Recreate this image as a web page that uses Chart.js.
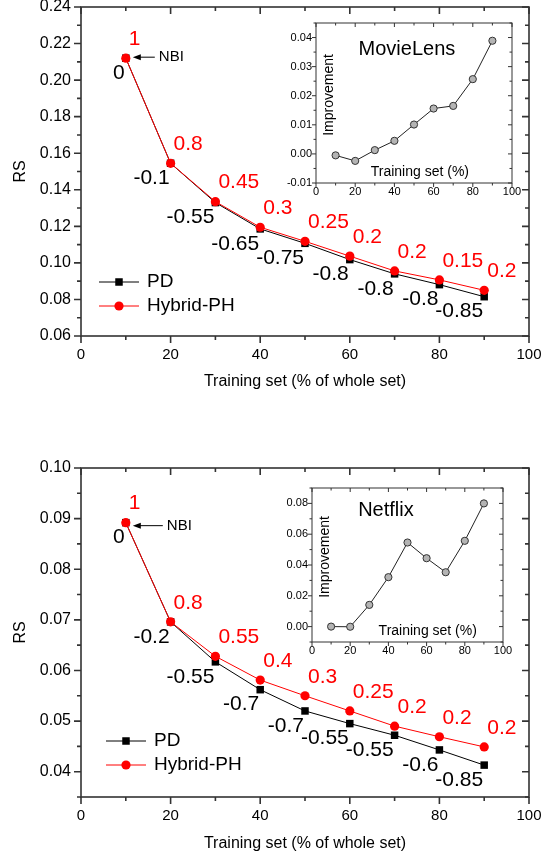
<!DOCTYPE html>
<html>
<head>
<meta charset="utf-8">
<script src="https://cdn.jsdelivr.net/npm/chart.js@4.4.0/dist/chart.umd.min.js"></script>
<style>
    html, body { margin: 0; padding: 0; background: #fff; }
    #wrap { position: relative; width: 556px; height: 856px; overflow: hidden; }
    canvas { position: absolute; }
</style>
</head>
<body>
<div id="wrap">
    <canvas id="ml-main" width="556" height="400" style="left:0;top:0"></canvas>
    <canvas id="ml-inset" width="250" height="190" style="left:276px;top:14px"></canvas>
    <canvas id="nf-main" width="556" height="416" style="left:0;top:440px"></canvas>
    <canvas id="nf-inset" width="250" height="185" style="left:272px;top:478px"></canvas>
</div>
<script>
// ---------------------------------------------------------------------------
// Data
// ---------------------------------------------------------------------------

const trainingSet = [10, 20, 30, 40, 50, 60, 70, 80, 90];

// MovieLens
const mlPD = [0.2120, 0.1545, 0.1330, 0.1186, 0.1107, 0.1018, 0.0940, 0.0881, 0.0815];
const mlHybrid = [0.2120, 0.1545, 0.1335, 0.1195, 0.1118, 0.1037, 0.0956, 0.0907, 0.0850];
const mlPDLabels = ['0', '-0.1', '-0.55', '-0.65', '-0.75', '-0.8', '-0.8', '-0.8', '-0.85'];
const mlHybridLabels = ['1', '0.8', '0.45', '0.3', '0.25', '0.2', '0.2', '0.15', '0.2'];
const mlImprovement = [-0.0005, -0.0024, 0.0013, 0.0045, 0.0101, 0.0156, 0.0165, 0.0257, 0.0389];

// Netflix
const nfPD = [0.0892, 0.0696, 0.0617, 0.0562, 0.0520, 0.0495, 0.0472, 0.0443, 0.0413];
const nfHybrid = [0.0892, 0.0696, 0.0628, 0.0581, 0.0550, 0.0520, 0.0490, 0.0469, 0.0449];
const nfPDLabels = ['0', '-0.2', '-0.55', '-0.7', '-0.7', '-0.55', '-0.55', '-0.6', '-0.85'];
const nfHybridLabels = ['1', '0.8', '0.55', '0.4', '0.3', '0.25', '0.2', '0.2', '0.2'];
const nfImprovement = [0.0000, -0.0001, 0.0141, 0.0321, 0.0546, 0.0444, 0.0353, 0.0557, 0.0800];

// Tick labels
const xTicks = [0, 20, 40, 60, 80, 100];
const mlRsTicks = [0.06, 0.08, 0.10, 0.12, 0.14, 0.16, 0.18, 0.20, 0.22, 0.24];
const nfRsTicks = [0.04, 0.05, 0.06, 0.07, 0.08, 0.09, 0.10];
const mlImpTicks = [-0.01, 0.00, 0.01, 0.02, 0.03, 0.04];
const nfImpTicks = [0.00, 0.02, 0.04, 0.06, 0.08];

// ---------------------------------------------------------------------------
// Helpers / plugins
// ---------------------------------------------------------------------------

const FONT = "'Liberation Sans', Arial, Helvetica, sans-serif";
Chart.defaults.font.family = FONT;
Chart.defaults.color = '#000';

const toPoints = ys => trainingSet.map((x, i) => ({ x, y: ys[i] }));

function stepValues(scale, step) {
    const out = [];
    const start = Math.ceil(scale.min / step - 1e-6);
    const end = Math.floor(scale.max / step + 1e-6);
    for (let i = start; i <= end; i++) out.push(i * step);
    return out;
}

// Origin-style box: ticks out on left/bottom, in on top/right, with minors
const framePlugin = {
    id: 'frame',
    afterDraw(chart, args, o) {
        const { ctx, chartArea: a } = chart;
        const { x, y } = chart.scales;
        const isMajor = (s, v) => s.ticks.some(t => Math.abs(t.value - v) < (s.max - s.min) * 1e-6);
        ctx.save();
        ctx.strokeStyle = o.color;
        ctx.lineWidth = o.width;
        ctx.beginPath();
        stepValues(x, o.xMinor).forEach(v => {
            const px = x.getPixelForValue(v);
            const len = isMajor(x, v) ? o.major : o.minor;
            ctx.moveTo(px, a.bottom); ctx.lineTo(px, a.bottom + len);
            ctx.moveTo(px, a.top); ctx.lineTo(px, a.top + len);
        });
        stepValues(y, o.yMinor).forEach(v => {
            const py = y.getPixelForValue(v);
            const len = isMajor(y, v) ? o.major : o.minor;
            ctx.moveTo(a.left, py); ctx.lineTo(a.left - len, py);
            ctx.moveTo(a.right, py); ctx.lineTo(a.right - len, py);
        });
        ctx.stroke();
        ctx.strokeRect(a.left, a.top, a.right - a.left, a.bottom - a.top);
        ctx.restore();
    }
};

function drawMarker(ctx, ds, x, y) {
    ctx.fillStyle = ds.backgroundColor;
    if (ds.pointStyle === 'rect') {
        const s = ds.pointRadius * Math.SQRT1_2;
        ctx.fillRect(x - s, y - s, 2 * s, 2 * s);
    } else {
        ctx.beginPath();
        ctx.arc(x, y, ds.pointRadius, 0, Math.PI * 2);
        ctx.fill();
    }
}

// Numbers written next to each point
const pointLabelPlugin = {
    id: 'pointLabels',
    afterDatasetsDraw(chart, args, o) {
        const { ctx } = chart;
        ctx.save();
        ctx.font = o.size + 'px ' + FONT;
        ctx.textBaseline = 'middle';
        chart.data.datasets.forEach((ds, i) => {
            if (!ds.pointLabels) return;
            const above = ds.pointLabelAbove;
            ctx.fillStyle = ds.pointLabelColor;
            ctx.textAlign = above ? 'left' : 'right';
            chart.getDatasetMeta(i).data.forEach((pt, j) => {
                ctx.fillText(ds.pointLabels[j], pt.x + (above ? 3 : -1), pt.y + (above ? -19 : 15));
            });
        });
        ctx.restore();
    }
};

// Legend drawn inside the plot, lower left
const insideLegendPlugin = {
    id: 'insideLegend',
    afterDatasetsDraw(chart, args, o) {
        const { ctx, chartArea: a } = chart;
        ctx.save();
        ctx.font = o.size + 'px ' + FONT;
        ctx.textBaseline = 'middle';
        ctx.textAlign = 'left';
        o.order.forEach((idx, row) => {
            const ds = chart.data.datasets[idx];
            const y = a.bottom + o.rows[row];
            const x0 = a.left + o.x;
            ctx.strokeStyle = ds.borderColor;
            ctx.lineWidth = ds.borderWidth;
            ctx.beginPath();
            ctx.moveTo(x0, y);
            ctx.lineTo(x0 + o.lineLen, y);
            ctx.stroke();
            drawMarker(ctx, ds, x0 + o.lineLen / 2, y);
            ctx.fillStyle = '#000';
            ctx.fillText(ds.label, x0 + o.lineLen + o.gap, y);
        });
        ctx.restore();
    }
};

// "<- NBI" pointer at the first point
const nbiPlugin = {
    id: 'nbi',
    afterDatasetsDraw(chart, args, o) {
        const { ctx } = chart;
        const idx = chart.data.datasets.findIndex(d => d.label === 'Hybrid-PH');
        const pt = chart.getDatasetMeta(idx).data[0];
        const tip = pt.x + 7, tail = tip + o.len, y = pt.y + o.dy;
        ctx.save();
        ctx.strokeStyle = '#000';
        ctx.fillStyle = '#000';
        ctx.lineWidth = 1;
        ctx.beginPath();
        ctx.moveTo(tip + 5, y);
        ctx.lineTo(tail, y);
        ctx.stroke();
        ctx.beginPath();
        ctx.moveTo(tip, y);
        ctx.lineTo(tip + 8, y - 3);
        ctx.lineTo(tip + 8, y + 3);
        ctx.closePath();
        ctx.fill();
        ctx.font = '15px ' + FONT;
        ctx.textBaseline = 'middle';
        ctx.textAlign = 'left';
        ctx.fillText('NBI', tail + 4, y);
        ctx.restore();
    }
};

// Inset captions drawn inside the small box
const insetTextPlugin = {
    id: 'insetText',
    afterDraw(chart, args, o) {
        const { ctx, chartArea: a } = chart;
        ctx.save();
        ctx.fillStyle = '#000';
        ctx.textBaseline = 'middle';
        ctx.textAlign = 'center';
        ctx.font = '20px ' + FONT;
        ctx.fillText(o.title, a.left + (a.right - a.left) * o.titleX, a.top + o.titleY);
        ctx.font = '14px ' + FONT;
        ctx.fillText('Training set (%)', a.left + (a.right - a.left) * o.xLabelX, a.bottom - 11);
        ctx.translate(a.left + 13, (a.top + a.bottom) / 2 - 8);
        ctx.rotate(-Math.PI / 2);
        ctx.fillText('Improvement', 0, 0);
        ctx.restore();
    }
};

// ---------------------------------------------------------------------------
// Chart builders
// ---------------------------------------------------------------------------

function mainChart(id, cfg) {
    return new Chart(document.getElementById(id), {
        type: 'line',
        data: {
            datasets: [{
                label: 'PD', data: toPoints(cfg.pd),
                borderColor: '#000', backgroundColor: '#000', borderWidth: 1,
                pointStyle: 'rect', pointRadius: 5.3, pointBorderWidth: 0, tension: 0, order: 2,
                pointLabels: cfg.pdLabels, pointLabelColor: '#000', pointLabelAbove: false,
            }, {
                label: 'Hybrid-PH', data: toPoints(cfg.hybrid),
                borderColor: '#ff0000', backgroundColor: '#ff0000', borderWidth: 1,
                pointStyle: 'circle', pointRadius: 4.6, pointBorderWidth: 0, tension: 0, order: 1,
                pointLabels: cfg.hybridLabels, pointLabelColor: '#ff0000', pointLabelAbove: true,
            }]
        },
        options: {
            responsive: false,
            animation: false,
            layout: { padding: { top: cfg.padTop, right: 27, left: 0, bottom: 0 } },
            plugins: {
                legend: { display: false },
                tooltip: { enabled: false },
                frame: { color: '#333', width: 1.6, major: 7, minor: 4, xMinor: 10, yMinor: cfg.yMinor },
                pointLabels: { size: 21 },
                insideLegend: { size: 19, order: [0, 1], x: cfg.legendX, rows: cfg.legendRows, lineLen: 40, gap: 8 },
                nbi: { len: cfg.nbiLen, dy: cfg.nbiDy },
            },
            scales: {
                x: {
                    type: 'linear', min: 0, max: 100,
                    afterBuildTicks: s => { s.ticks = xTicks.map(v => ({ value: v })); },
                    grid: { display: false, drawTicks: false },
                    border: { display: false },
                    ticks: { font: { size: 15 }, color: '#000', padding: 10, callback: v => String(v) },
                    title: {
                        display: true, text: 'Training set (% of whole set)', color: '#000',
                        font: { size: 16 }, padding: { top: 0, bottom: cfg.titlePad },
                    },
                    afterFit: s => { s.height = cfg.xHeight; },
                },
                y: {
                    type: 'linear', min: cfg.yMin, max: cfg.yMax,
                    afterBuildTicks: s => { s.ticks = cfg.yTicks.map(v => ({ value: v })); },
                    grid: { display: false, drawTicks: false },
                    border: { display: false },
                    ticks: { font: { size: 16 }, color: '#000', padding: 10, callback: v => v.toFixed(2) },
                    title: { display: true, text: 'RS', color: '#000', font: { size: 16 }, padding: { top: 11, bottom: 0 } },
                    afterFit: s => { s.width = 81; s.paddingTop = 0; s.paddingBottom = 0; },
                }
            }
        },
        plugins: [framePlugin, pointLabelPlugin, insideLegendPlugin, nbiPlugin],
    });
}

function insetChart(id, cfg) {
    return new Chart(document.getElementById(id), {
        type: 'line',
        data: {
            datasets: [{
                label: 'Improvement', data: toPoints(cfg.values),
                borderColor: '#222', borderWidth: 1, tension: 0,
                pointStyle: 'circle', pointRadius: 3.6,
                pointBackgroundColor: '#b4b4b4', pointBorderColor: '#333', pointBorderWidth: 1,
            }]
        },
        options: {
            responsive: false,
            animation: false,
            layout: { padding: { top: cfg.padTop, right: cfg.padRight, left: 0, bottom: 0 } },
            plugins: {
                legend: { display: false },
                tooltip: { enabled: false },
                frame: { color: '#333', width: 1, major: 4, minor: 2.5, xMinor: 10, yMinor: cfg.yMinor },
                insetText: { title: cfg.title, titleX: cfg.titleX, titleY: cfg.titleY, xLabelX: cfg.xLabelX },
            },
            scales: {
                x: {
                    type: 'linear', min: 0, max: 100,
                    afterBuildTicks: s => { s.ticks = xTicks.map(v => ({ value: v })); },
                    grid: { display: false, drawTicks: false },
                    border: { display: false },
                    ticks: { font: { size: 11 }, color: '#000', padding: 2.5, callback: v => String(v) },
                    afterFit: s => { s.height = 21; },
                },
                y: {
                    type: 'linear', min: cfg.yMin, max: cfg.yMax,
                    afterBuildTicks: s => { s.ticks = cfg.yTicks.map(v => ({ value: v })); },
                    grid: { display: false, drawTicks: false },
                    border: { display: false },
                    ticks: { font: { size: 11 }, color: '#000', padding: 4, callback: v => v.toFixed(2) },
                    afterFit: s => { s.width = 40; s.paddingTop = 0; s.paddingBottom = 0; },
                }
            }
        },
        plugins: [framePlugin, insetTextPlugin],
    });
}

// ---------------------------------------------------------------------------
// MovieLens panel
// ---------------------------------------------------------------------------

mainChart('ml-main', {
    pd: mlPD, hybrid: mlHybrid, pdLabels: mlPDLabels, hybridLabels: mlHybridLabels,
    yMin: 0.06, yMax: 0.24, yTicks: mlRsTicks, yMinor: 0.01,
    padTop: 7, xHeight: 64, titlePad: 8.5,
    legendX: 18, legendRows: [-54, -30],
    nbiLen: 22, nbiDy: -1,
});

insetChart('ml-inset', {
    values: mlImprovement, yMin: -0.01, yMax: 0.045, yTicks: mlImpTicks, yMinor: 0.005,
    padTop: 9, padRight: 14,
    title: 'MovieLens', titleX: 0.464, titleY: 26, xLabelX: 0.53,
});

// ---------------------------------------------------------------------------
// Netflix panel
// ---------------------------------------------------------------------------

mainChart('nf-main', {
    pd: nfPD, hybrid: nfHybrid, pdLabels: nfPDLabels, hybridLabels: nfHybridLabels,
    yMin: 0.035, yMax: 0.10, yTicks: nfRsTicks, yMinor: 0.005,
    padTop: 28, xHeight: 59, titlePad: 3,
    legendX: 25, legendRows: [-56, -32],
    nbiLen: 30, nbiDy: 3,
});

insetChart('nf-inset', {
    values: nfImprovement, yMin: -0.01, yMax: 0.09, yTicks: nfImpTicks, yMinor: 0.01,
    padTop: 10, padRight: 19,
    title: 'Netflix', titleX: 0.387, titleY: 22, xLabelX: 0.606,
});
</script>
</body>
</html>
